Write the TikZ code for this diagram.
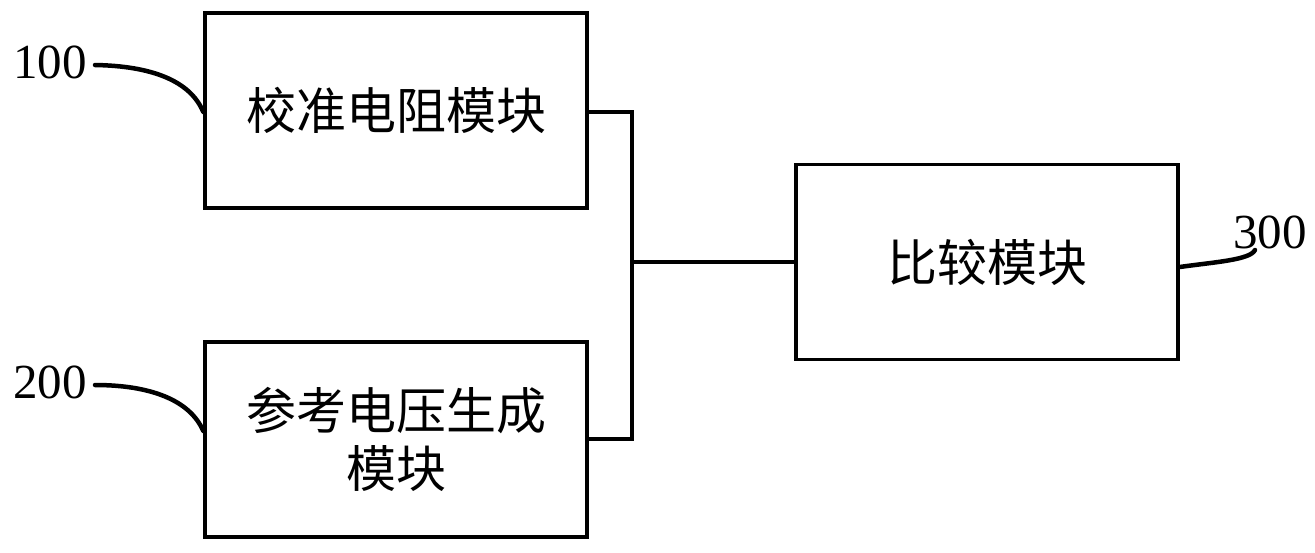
\documentclass[tikz,border=0pt]{standalone}
\usepackage{fontspec}
\setmainfont{Liberation Serif}
\newfontfamily\cjk{Noto Sans CJK SC}[Scale=1]
\begin{document}
\begin{tikzpicture}[x=1pt,y=-1pt,
  blk/.style={draw,line width=3.5pt,minimum width=382pt,minimum height=195pt,inner sep=0pt,font=\cjk\fontsize{50}{58}\selectfont,align=center},
  wire/.style={line width=3.5pt},
  lead/.style={line width=4.5pt,line cap=round},
  num/.style={font=\fontsize{49}{50}\selectfont,inner sep=0pt}]
\useasboundingbox (0,0) rectangle (1315,552);
\node[blk] (a) at (396,110.5) {校准电阻模块};
\node[blk] (b) at (396,439.5) {参考电压生成\\模块};
\node[blk] (c) at (987,262) {比较模块};
\coordinate (j) at (632,262);
\draw[wire] (a.east |- 0,112) -| (j);
\draw[wire] (b.east |- 0,439) -| (j);
\draw[wire] (j) -- (c.west);
\node[num,anchor=east] (n1) at (87,62) {100};
\node[num,anchor=east] (n2) at (87,382) {200};
\node[num,anchor=east] (n3) at (1307,232) {300};
\draw[lead] (n1.east) ++(8,3) coordinate (s1) .. controls (150,66) and (190,80) .. (a.west |- 0,112);
\draw[lead] (n2.east) ++(8,3) coordinate (s2) .. controls (150,385) and (190,400) .. (b.west |- 0,431);
\draw[lead] (c.east |- 0,267) .. controls (1215,262) and (1250,260) .. (1255,250);
\end{tikzpicture}
\end{document}
